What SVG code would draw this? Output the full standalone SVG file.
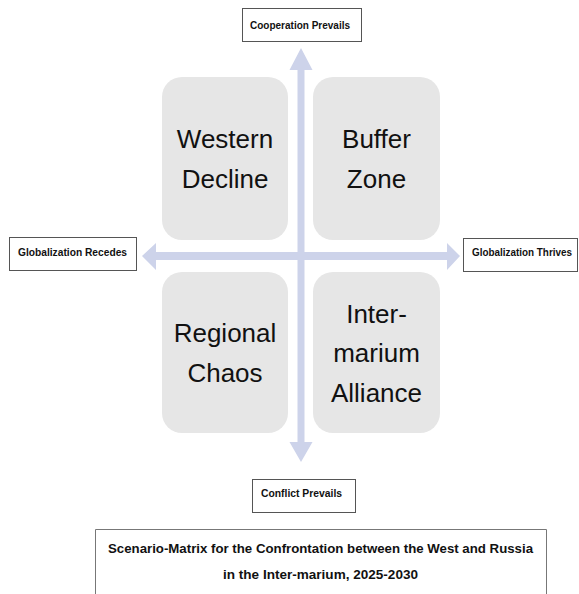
<svg xmlns="http://www.w3.org/2000/svg" width="579" height="594" viewBox="0 0 579 594">
<style>
.q{fill:#e6e6e6;}
.qt{font-family:"Liberation Sans",Arial,sans-serif;font-size:26px;fill:#111;text-anchor:middle;}
.lb{fill:#fff;stroke:#555;stroke-width:1;}
.lt{font-family:"Liberation Sans",Arial,sans-serif;font-size:10px;font-weight:bold;fill:#111;}
.tt{font-family:"Liberation Sans",Arial,sans-serif;font-size:13px;font-weight:bold;fill:#111;}
.ar{fill:#cdd3ea;}
</style>
<rect width="579" height="594" fill="#fff"/>
<g id="connectors">
<polygon class="ar" points="301,48 312.5,70 304.5,70 304.5,442 312.5,442 301,462 289.5,442 297.5,442 297.5,70 289.5,70"/>
<polygon class="ar" points="142,256 156,243 156,252 447,252 447,243 460,256 447,270 447,260 156,260 156,270"/>
</g>
<g id="western-decline">
<rect class="q" x="162" y="77" width="126" height="163" rx="20"/>
<text class="qt" x="225" y="148">Western</text>
<text class="qt" x="225" y="188">Decline</text>
</g>
<g id="buffer-zone">
<rect class="q" x="313" y="77" width="127" height="163" rx="20"/>
<text class="qt" x="376.5" y="148">Buffer</text>
<text class="qt" x="376.5" y="188">Zone</text>
</g>
<g id="regional-chaos">
<rect class="q" x="162" y="272" width="126" height="161" rx="20"/>
<text class="qt" x="225" y="342">Regional</text>
<text class="qt" x="225" y="382">Chaos</text>
</g>
<g id="intermarium-alliance">
<rect class="q" x="313" y="272" width="127" height="161" rx="20"/>
<text class="qt" x="376.5" y="323">Inter-</text>
<text class="qt" x="376.5" y="362">marium</text>
<text class="qt" x="376.5" y="402">Alliance</text>
</g>
<g id="cooperation-prevails">
<rect class="lb" x="242.5" y="8.5" width="119" height="33"/>
<text class="lt" x="250" y="29" textLength="100" lengthAdjust="spacingAndGlyphs">Cooperation Prevails</text>
</g>
<g id="globalization-recedes">
<rect class="lb" x="9.5" y="237.5" width="127" height="33"/>
<text class="lt" x="18" y="256" textLength="109" lengthAdjust="spacingAndGlyphs">Globalization Recedes</text>
</g>
<g id="globalization-thrives">
<rect class="lb" x="463.5" y="238.5" width="114" height="33"/>
<text class="lt" x="472" y="256" textLength="100" lengthAdjust="spacingAndGlyphs">Globalization Thrives</text>
</g>
<g id="conflict-prevails">
<rect class="lb" x="252.5" y="479.5" width="103" height="33"/>
<text class="lt" x="261" y="497" textLength="81" lengthAdjust="spacingAndGlyphs">Conflict Prevails</text>
</g>
<g id="title">
<path d="M95.5,594 V529.5 H546.5 V594" fill="#fff" stroke="#777" stroke-width="1"/>
<text class="tt" x="108" y="553" textLength="425" lengthAdjust="spacingAndGlyphs">Scenario-Matrix for the Confrontation between the West and Russia</text>
<text class="tt" x="223" y="579" textLength="195" lengthAdjust="spacingAndGlyphs">in the Inter-marium, 2025-2030</text>
</g>
</svg>
